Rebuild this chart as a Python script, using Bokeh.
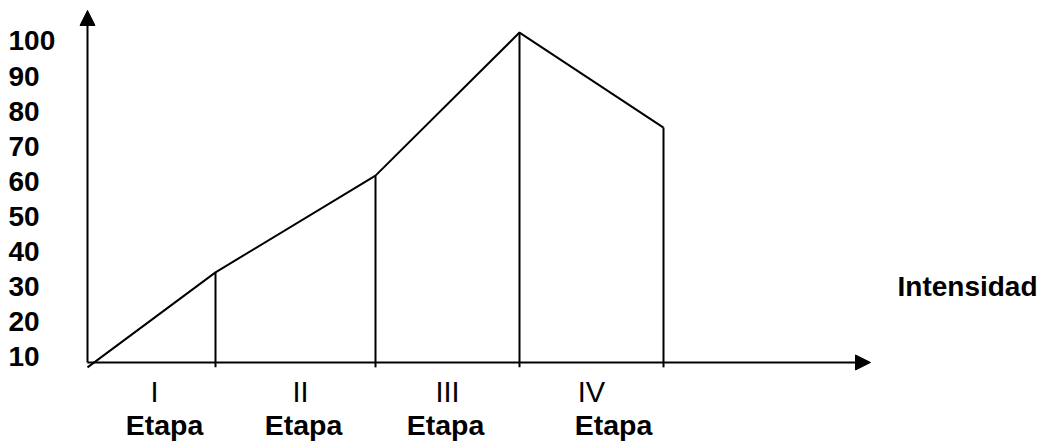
from bokeh.plotting import figure
from bokeh.models import Arrow, NormalHead
from bokeh.core.properties import value
from bokeh.embed import file_html
from bokeh.resources import INLINE

# ---- data ----
stage_labels = ["I", "II", "III", "IV"]
stage_word = ["Etapa", "Etapa", "Etapa", "Etapa"]
boundaries = [0.0, 12.8, 28.8, 43.2, 57.6]        # stage limits (time units)
intensity = [6.9, 34.0, 61.6, 102.4, 75.3]        # intensity at each limit
y_ticks = [10, 20, 30, 40, 50, 60, 70, 80, 90, 100]
y_tick_labels = [str(v) for v in y_ticks]
axis_title = "Intensidad"

# ---- layout / style ----
W, H = 1045, 441
px_x = 10.0      # px per x unit
px_y = 3.506     # px per y unit
x0 = -8.7
y1 = 111.54
axis_y = 8.3
tick_low = 6.9
font = value("Liberation Sans")

p = figure(width=W, height=H, x_range=(x0, x0 + W / px_x),
           y_range=(y1 - H / px_y, y1), output_backend="svg",
           toolbar_location=None, min_border=0)
p.axis.visible = False
p.grid.visible = False
p.outline_line_color = None
p.background_fill_color = "white"

# axes with arrows
p.add_layout(Arrow(end=NormalHead(size=15, fill_color="black", line_color="black", line_width=1),
                   x_start=0, y_start=axis_y, x_end=0, y_end=108.7,
                   line_width=2, line_color="black"))
p.add_layout(Arrow(end=NormalHead(size=15, fill_color="black", line_color="black", line_width=1),
                   x_start=0, y_start=axis_y, x_end=78.3, y_end=axis_y,
                   line_width=2, line_color="black"))

# intensity profile
p.line(boundaries, intensity, line_width=2, line_color="black")

# vertical stage dividers
p.segment(x0=boundaries[1:], y0=[tick_low] * 4, x1=boundaries[1:], y1=intensity[1:],
          line_width=2, line_color="black")

# y tick labels
p.text(x=[-7.9] * len(y_ticks), y=y_ticks, text=y_tick_labels,
       text_font=font, text_font_style="bold", text_font_size="28px",
       text_align="left", text_baseline="middle", text_color="black")

# stage labels
mids = [(boundaries[i] + boundaries[i + 1]) / 2 for i in range(4)]
p.text(x=mids, y=[0.0] * 4, text=stage_labels, x_offset=[3, 5, 0, 0],
       text_font=font, text_font_size="29px",
       text_align="center", text_baseline="middle", text_color="black")
p.text(x=mids, y=[-9.4] * 4, text=stage_word, x_offset=[13, 8, -2, 22],
       text_font=font, text_font_style="bold", text_font_size="28.5px",
       text_align="center", text_baseline="middle", text_color="black")

# axis title
p.text(x=[81.0], y=[30], text=[axis_title],
       text_font=font, text_font_style="bold", text_font_size="28px",
       text_align="left", text_baseline="middle", text_color="black")

open("out.html", "w").write(file_html(p, INLINE))
